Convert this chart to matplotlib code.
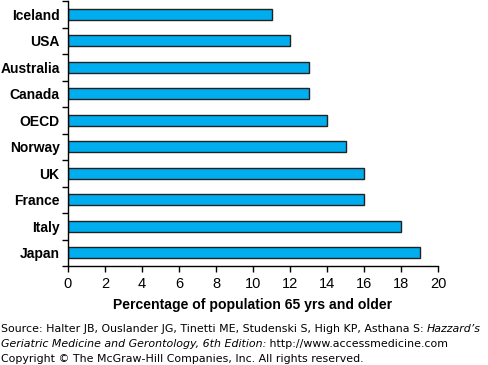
"""Bar chart: share of population aged 65 and older, by country."""

import matplotlib.pyplot as plt
from matplotlib.transforms import offset_copy

countries = ["Iceland", "USA", "Australia", "Canada", "OECD",
             "Norway", "UK", "France", "Italy", "Japan"]
percent_65_plus = [11, 12, 13, 13, 14, 15, 16, 16, 18, 19]
x_ticks = [0, 2, 4, 6, 8, 10, 12, 14, 16, 18, 20]

plt.rcParams["font.family"] = ["Liberation Sans", "DejaVu Sans"]

fig = plt.figure(figsize=(4.88, 3.65), dpi=100)
ax = fig.add_axes([68 / 488, 1 - 266 / 365, 370 / 488, 265 / 365])

pos = list(range(len(countries)))
ax.barh(pos, percent_65_plus, height=0.42, color="#00AEEF",
        edgecolor="#222222", linewidth=1.0)

ax.set_xlim(0, 20)
ax.set_ylim(len(countries) - 0.5, -0.5)
ax.set_xticks(x_ticks)
ax.set_xticklabels([str(t) for t in x_ticks], fontsize=10.5)

# category labels centred on bars, tick marks on the boundaries
ax.set_yticks([p + 0.5 for p in pos] + [-0.5])
ax.set_yticklabels([])
ax.set_yticks(pos, minor=True)
ax.set_yticklabels(countries, minor=True, fontsize=10, fontweight="bold")
ax.tick_params(axis="y", which="minor", length=0, pad=6)
ax.tick_params(axis="y", which="major", length=4, width=1)
ax.tick_params(axis="x", length=4, width=1, pad=4)

for side in ["top", "right"]:
    ax.spines[side].set_visible(False)
for side in ["left", "bottom"]:
    ax.spines[side].set_linewidth(1.0)

ax.set_xlabel("Percentage of population 65 yrs and older",
              fontsize=10.1, fontweight="bold", labelpad=5)

# footnote, pieced together so the book title can be italic
fig.canvas.draw()
renderer = fig.canvas.get_renderer()


def write_line(y_px, pieces):
    trans = fig.transFigure
    x = 0.002
    for txt, style in pieces:
        t = fig.text(x, 1 - y_px / 365, txt, family="DejaVu Sans",
                     fontsize=7.9, style=style, va="baseline",
                     transform=trans)
        w = t.get_window_extent(renderer).width
        trans = offset_copy(trans, fig=fig, x=w, y=0, units="dots")


write_line(332, [
    ("Source: Halter JB, Ouslander JG, Tinetti ME, Studenski S, High KP, "
     "Asthana S: ", "normal"),
    ("Hazzard\u2019s", "italic"),
])
write_line(347, [
    ("Geriatric Medicine and Gerontology, 6th Edition:", "italic"),
    (" http://www.accessmedicine.com", "normal"),
])
write_line(362, [
    ("Copyright \u00a9 The McGraw-Hill Companies, Inc. All rights reserved.",
     "normal"),
])

fig.savefig("out.png", dpi=100)
